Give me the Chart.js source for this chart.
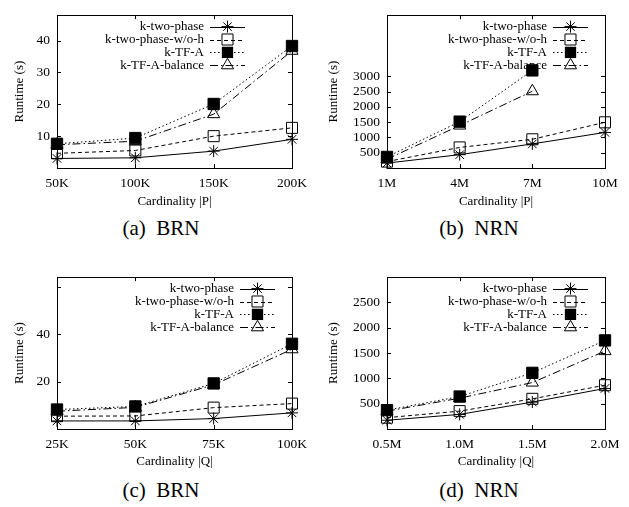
<!DOCTYPE html>
<html>
<head>
<meta charset="utf-8">
<script src="https://cdn.jsdelivr.net/npm/chart.js"></script>
<style>
  body { margin: 0; background: #fff; }
  #wrap { position: relative; width: 629px; height: 507px; }
  .panel { position: absolute; }
  .cap {
    position: absolute; font-family: 'Liberation Serif', serif; font-size: 21px;
    line-height: 21px; white-space: pre; transform: translateX(-50%); color: #000;
  }
</style>
</head>
<body>
<div id="wrap">
  <div class="panel" style="left:0;top:0"><canvas id="cA" width="314" height="215"></canvas></div>
  <div class="panel" style="left:314px;top:0"><canvas id="cB" width="314" height="215"></canvas></div>
  <div class="panel" style="left:0;top:262px"><canvas id="cC" width="314" height="213"></canvas></div>
  <div class="panel" style="left:314px;top:262px"><canvas id="cD" width="314" height="213"></canvas></div>
  <div class="cap" style="left:161px;top:218px">(a)  BRN</div>
  <div class="cap" style="left:479px;top:218px">(b)  NRN</div>
  <div class="cap" style="left:161px;top:480px">(c)  BRN</div>
  <div class="cap" style="left:479px;top:480px">(d)  NRN</div>
</div>
<script>
(function() {

  "use strict";

  // series names (same in all four panels)
  var names = ['k-two-phase', 'k-two-phase-w/o-h', 'k-TF-A', 'k-TF-A-balance'];

  // (a) BRN, cardinality |P|
  var catA = ['50K', '100K', '150K', '200K'];
  var twoPhaseA = [3.0, 3.2, 5.3, 9.0];
  var wohA = [4.6, 5.5, 10.0, 12.6];
  var tfaA = [7.6, 9.4, 20.1, 38.3];
  var balA = [7.3, 8.4, 16.9, 36.8];
  var yTicksA = [10, 20, 30, 40];

  // (b) NRN, cardinality |P|
  var catB = ['1M', '4M', '7M', '10M'];
  var twoPhaseB = [160, 436, 788, 1163];
  var wohB = [210, 673, 939, 1494];
  var tfaB = [362, 1516, 3192, null];
  var balB = [290, 1388, 2510, null];
  var yTicksB = [500, 1000, 1500, 2000, 2500, 3000];

  // (c) BRN, cardinality |Q|
  var catC = ['25K', '50K', '75K', '100K'];
  var twoPhaseC = [3.4, 3.4, 4.4, 6.8];
  var wohC = [5.4, 5.5, 9.0, 10.7];
  var tfaC = [8.2, 9.5, 19.2, 35.9];
  var balC = [7.5, 9.1, 18.6, 33.6];
  var yTicksC = [20, 40, 60];

  // (d) NRN, cardinality |Q|
  var catD = ['0.5M', '1.0M', '1.5M', '2.0M'];
  var twoPhaseD = [173, 288, 532, 801];
  var wohD = [224, 353, 596, 865];
  var tfaD = [372, 641, 1109, 1750];
  var balD = [353, 609, 917, 1538];
  var yTicksD = [500, 1000, 1500, 2000, 2500];

  var serif = "'Liberation Serif', 'Times New Roman', serif";

  // line / marker look per series (gnuplot style)
  var looks = [
    { dash: [], pt: 'star', r: 6, fill: false },
    { dash: [4, 3], pt: 'rect', r: 7.8, fill: false },
    { dash: [1.5, 2.5], pt: 'rect', r: 8, fill: true },
    { dash: [8, 3, 1.5, 3], pt: 'triangle', r: 7, fill: false }
  ];

  function marker(ctx, lk, x, y) {
    var r = lk.r;
    ctx.save();
    ctx.setLineDash([]);
    ctx.lineWidth = 1;
    ctx.strokeStyle = '#000';
    ctx.fillStyle = '#000';
    ctx.beginPath();
    if (lk.pt === 'star') {
      var d = r * Math.SQRT1_2;
      ctx.moveTo(x - r, y); ctx.lineTo(x + r, y);
      ctx.moveTo(x, y - r); ctx.lineTo(x, y + r);
      ctx.moveTo(x - d, y - d); ctx.lineTo(x + d, y + d);
      ctx.moveTo(x - d, y + d); ctx.lineTo(x + d, y - d);
      ctx.stroke();
    } else if (lk.pt === 'rect') {
      var s = r * Math.SQRT1_2;
      ctx.rect(x - s, y - s, 2 * s, 2 * s);
      if (lk.fill) ctx.fill(); else ctx.stroke();
    } else {
      var a = -Math.PI / 2;
      for (var i = 0; i < 3; i++) {
        var px = x + Math.cos(a) * r, py = y + Math.sin(a) * r;
        if (i === 0) ctx.moveTo(px, py); else ctx.lineTo(px, py);
        a += Math.PI * 2 / 3;
      }
      ctx.closePath();
      ctx.stroke();
    }
    ctx.restore();
  }

  // border box + inward tick marks on all four sides
  var framePlugin = {
    id: 'frame',
    beforeDatasetsDraw: function(chart, args, opts) {
      var ctx = chart.ctx, a = chart.chartArea;
      var xs = chart.scales.x, ys = chart.scales.y;
      var tl = 4;
      ctx.save();
      ctx.strokeStyle = '#000';
      ctx.lineWidth = 1;
      ctx.strokeRect(Math.round(a.left) + 0.5, Math.round(a.top) + 0.5,
        Math.round(a.right - a.left), Math.round(a.bottom - a.top));
      ctx.beginPath();
      chart.data.labels.forEach(function(l, i) {
        var px = Math.round(xs.getPixelForValue(i)) + 0.5;
        ctx.moveTo(px, a.bottom); ctx.lineTo(px, a.bottom - tl);
        ctx.moveTo(px, a.top); ctx.lineTo(px, a.top + tl);
      });
      opts.yTicks.forEach(function(v) {
        var py = Math.round(ys.getPixelForValue(v)) + 0.5;
        ctx.moveTo(a.left, py); ctx.lineTo(a.left + tl, py);
        ctx.moveTo(a.right, py); ctx.lineTo(a.right - tl, py);
      });
      ctx.stroke();
      ctx.restore();
    },
    afterDatasetsDraw: function(chart, args, opts) {
      // gnuplot-like key: right aligned text, sample line + marker on the right
      var ctx = chart.ctx, a = chart.chartArea;
      var x2 = a.right - opts.keyRight, x1 = x2 - 35;
      ctx.save();
      ctx.font = '13px ' + serif;
      ctx.fillStyle = '#000';
      ctx.textAlign = 'right';
      ctx.textBaseline = 'middle';
      names.forEach(function(n, i) {
        var y = a.top + 11.5 + i * 12.9;
        ctx.fillText(n, x1 - 6, y);
        ctx.beginPath();
        ctx.setLineDash(looks[i].dash);
        ctx.lineWidth = 1;
        ctx.strokeStyle = '#000';
        ctx.moveTo(x1, Math.round(y) + 0.5);
        ctx.lineTo(x2, Math.round(y) + 0.5);
        ctx.stroke();
        marker(ctx, looks[i], (x1 + x2) / 2, y);
      });
      ctx.restore();
    }
  };

  function makeChart(id, cats, series, p) {
    var datasets = series.map(function(vals, i) {
      var lk = looks[i];
      return {
        label: names[i],
        data: vals,
        borderColor: '#000',
        borderWidth: 1,
        borderDash: lk.dash,
        pointStyle: lk.pt,
        pointRadius: lk.r,
        pointBorderWidth: 1,
        pointBorderColor: '#000',
        pointBackgroundColor: lk.fill ? '#000' : 'rgba(0,0,0,0)',
        tension: 0,
        fill: false,
        spanGaps: false,
        clip: false,
        order: 3 - i
      };
    });
    return new Chart(document.getElementById(id), {
      type: 'line',
      data: { labels: cats, datasets: datasets },
      plugins: [framePlugin],
      options: {
        responsive: false,
        animation: false,
        devicePixelRatio: 1,
        layout: { padding: { top: 11, right: p.right, left: 0, bottom: 0 } },
        plugins: {
          legend: { display: false },
          tooltip: { enabled: false },
          frame: { yTicks: p.yTicks, keyRight: p.keyRight }
        },
        scales: {
          x: {
            type: 'category',
            offset: false,
            grid: { display: false, drawTicks: false },
            border: { display: false },
            ticks: { color: '#000', padding: 7, maxRotation: 0, autoSkip: false,
                     font: { family: serif, size: 13.5 } },
            title: { display: true, text: p.xTitle, color: '#000',
                     font: { family: serif, size: 13 }, padding: { top: 4, bottom: 5.5 } },
            afterFit: function(s) { s.height = p.xh; }
          },
          y: {
            type: 'linear',
            min: 0,
            max: p.max,
            grid: { display: false, drawTicks: false },
            border: { display: false },
            ticks: {
              stepSize: p.step, color: '#000', padding: 7, autoSkip: false,
              font: { family: serif, size: 13.5 },
              callback: function(v) { return p.yTicks.indexOf(v) >= 0 ? String(v) : ''; }
            },
            title: { display: true, text: 'Runtime (s)', color: '#000',
                     font: { family: serif, size: 13 }, padding: { top: 12, bottom: 0 } },
            afterFit: function(s) { s.width = p.yw; }
          }
        }
      }
    });
  }

  makeChart('cA', catA, [twoPhaseA, wohA, tfaA, balA],
    { right: 22, yw: 57, xh: 47, max: 48, step: 10, yTicks: yTicksA, keyRight: 47, xTitle: 'Cardinality |P|' });
  makeChart('cB', catB, [twoPhaseB, wohB, tfaB, balB],
    { right: 23, yw: 73, xh: 47, max: 5000, step: 500, yTicks: yTicksB, keyRight: 17, xTitle: 'Cardinality |P|' });
  makeChart('cC', catC, [twoPhaseC, wohC, tfaC, balC],
    { right: 22, yw: 57, xh: 46, max: 64, step: 20, yTicks: yTicksC, keyRight: 17, xTitle: 'Cardinality |Q|' });
  makeChart('cD', catD, [twoPhaseD, wohD, tfaD, balD],
    { right: 23, yw: 73, xh: 46, max: 3000, step: 500, yTicks: yTicksD, keyRight: 17, xTitle: 'Cardinality |Q|' });

})();
</script>
</body>
</html>
